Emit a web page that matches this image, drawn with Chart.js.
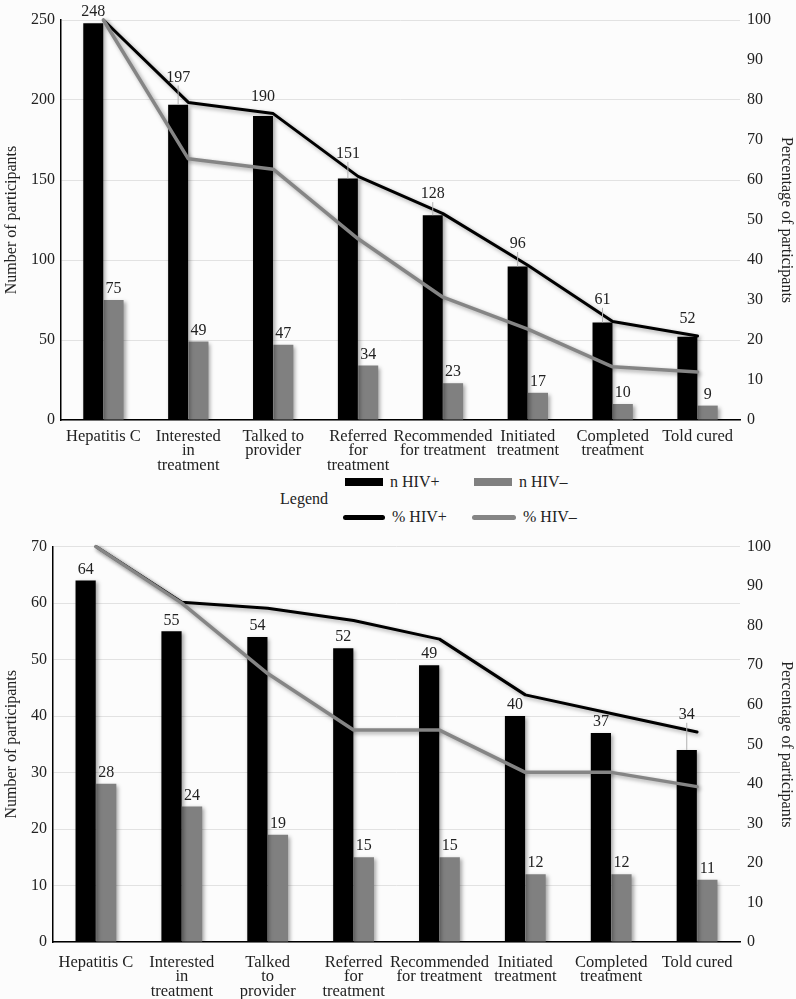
<!DOCTYPE html>
<html>
<head>
<meta charset="utf-8">
<script src="https://cdn.jsdelivr.net/npm/chart.js@4.4.0/dist/chart.umd.min.js"></script>
<style>
  body { margin: 0; background: #fcfcfc; font-family: "Liberation Serif", serif; }
  #arriba { position: absolute; left: 0; top: 0; }
  #abajo { position: absolute; left: 0; top: 530px; }
  #leyenda { position: absolute; left: 0; top: 470px; width: 796px; height: 60px; font-size: 16px; color: #222; }
  .titulo { position: absolute; left: 280px; top: 19px; height: 20px; line-height: 20px; }
  .item { position: absolute; height: 20px; display: flex; align-items: center; }
  .muestra { margin-right: 7px; }
</style>
</head>
<body>
<canvas id="arriba" width="796" height="470"></canvas>
<div id="leyenda"></div>
<canvas id="abajo" width="796" height="469"></canvas>
<script>
// categorias de cada grafica
let categoriasArriba = ["Hepatitis C", ["Interested", "in", "treatment"], ["Talked to", "provider"],
    ["Referred", "for", "treatment"], ["Recommended", "for treatment"], ["Initiated", "treatment"],
    ["Completed", "treatment"], "Told cured"];
let categoriasAbajo = ["Hepatitis C", ["Interested", "in", "treatment"], ["Talked", "to", "provider"],
    ["Referred", "for", "treatment"], ["Recommended", "for treatment"], ["Initiated", "treatment"],
    ["Completed", "treatment"], "Told cured"];

// grafica de arriba
let nPosArriba = [248, 197, 190, 151, 128, 96, 61, 52];
let nNegArriba = [75, 49, 47, 34, 23, 17, 10, 9];
let pctPosArriba = [100, 79.4, 76.6, 60.9, 51.6, 38.7, 24.6, 21.0];
let pctNegArriba = [100, 65.3, 62.7, 45.3, 30.7, 22.7, 13.3, 12.0];

// grafica de abajo
let nPosAbajo = [64, 55, 54, 52, 49, 40, 37, 34];
let nNegAbajo = [28, 24, 19, 15, 15, 12, 12, 11];
let pctPosAbajo = [100, 85.9, 84.4, 81.3, 76.6, 62.5, 57.8, 53.1];
let pctNegAbajo = [100, 85.7, 67.9, 53.6, 53.6, 42.9, 42.9, 39.3];

let nombres = ["n HIV+", "n HIV–", "% HIV+", "% HIV–"];

const fuente = '"Liberation Serif", serif';
const texto = "#222";

function yEnX(puntos, x) {
    for (let k = 0; k < puntos.length - 1; k++) {
        let a = puntos[k], b = puntos[k + 1];
        if (x >= a.x && x <= b.x) {
            return a.y + (b.y - a.y) * (x - a.x) / (b.x - a.x);
        }
    }
    return null;
}

// numeros encima de las barras; si chocan con una linea se suben
const etiquetas = {
    id: "etiquetas",
    afterDatasetsDraw(chart) {
        let ctx = chart.ctx;
        let lineas = [];
        chart.data.datasets.forEach((ds, i) => {
            if (ds.type === "line") lineas.push(chart.getDatasetMeta(i).data);
        });
        ctx.save();
        ctx.font = "16px " + fuente;
        ctx.textAlign = "center";
        ctx.textBaseline = "middle";
        chart.data.datasets.forEach((ds, i) => {
            if (ds.type !== "bar") return;
            chart.getDatasetMeta(i).data.forEach((barra, j) => {
                let y = barra.y - 11;
                for (let vuelta = 0; vuelta < 2; vuelta++) {
                    lineas.forEach(pts => {
                        let ly = yEnX(pts, barra.x);
                        if (ly !== null && Math.abs(y - ly) < 10) y = Math.min(y, ly - 15);
                    });
                }
                if (barra.y - y > 20) {
                    ctx.strokeStyle = "#b0b0b0";
                    ctx.lineWidth = 1;
                    ctx.beginPath();
                    ctx.moveTo(barra.x, y + 8);
                    ctx.lineTo(barra.x, barra.y);
                    ctx.stroke();
                }
                ctx.fillStyle = texto;
                ctx.fillText(ds.data[j], barra.x, y);
            });
        });
        ctx.restore();
    }
};

const sombra = {
    id: "sombra",
    beforeDatasetDraw(chart) {
        let c = chart.ctx;
        c.save();
        c.shadowColor = "rgba(0,0,0,0.35)";
        c.shadowBlur = 4;
        c.shadowOffsetX = 2;
        c.shadowOffsetY = 2;
    },
    afterDatasetDraw(chart) {
        chart.ctx.restore();
    }
};

function hacerGrafica(id, categorias, nPos, nNeg, pctPos, pctNeg, maxIzq, pasoIzq, anchoIzq, arriba, altoX, sepX) {
    let config = {
        type: "bar",
        data: {
            labels: categorias,
            datasets: [
                { type: "line", label: nombres[3], data: pctNeg, yAxisID: "pct", borderColor: "#858585",
                  backgroundColor: "#858585", borderWidth: 3.5, pointRadius: 0, tension: 0, order: 0, clip: false,
                  borderJoinStyle: "round", borderCapStyle: "round" },
                { type: "line", label: nombres[2], data: pctPos, yAxisID: "pct", borderColor: "#000",
                  backgroundColor: "#000", borderWidth: 3, pointRadius: 0, tension: 0, order: 1, clip: false,
                  borderJoinStyle: "round", borderCapStyle: "round" },
                { type: "bar", label: nombres[0], data: nPos, yAxisID: "n", backgroundColor: "#000",
                  categoryPercentage: 0.48, barPercentage: 0.98, order: 2 },
                { type: "bar", label: nombres[1], data: nNeg, yAxisID: "n", backgroundColor: "#808080",
                  categoryPercentage: 0.48, barPercentage: 0.98, order: 3 }
            ]
        },
        options: {
            responsive: false,
            animation: false,
            layout: { padding: { top: arriba, left: 0, right: 0, bottom: 0 } },
            plugins: { legend: { display: false }, tooltip: { enabled: false } },
            scales: {
                x: {
                    grid: { display: false, drawTicks: false },
                    border: { color: "#000", width: 1.5 },
                    ticks: { color: texto, font: { family: fuente, size: 16.5, lineHeight: 0.88 },
                             maxRotation: 0, autoSkip: false, padding: sepX },
                    afterFit(s) { s.height = altoX; }
                },
                n: {
                    position: "left", min: 0, max: maxIzq,
                    grid: { color: "#e2e2e2", drawTicks: false },
                    border: { color: "#000", width: 1.5 },
                    ticks: { stepSize: pasoIzq, color: texto, font: { family: fuente, size: 16 }, padding: 6 },
                    title: { display: true, text: "Number of participants", color: texto,
                             font: { family: fuente, size: 16 }, padding: { top: 2, bottom: 0 } },
                    afterFit(s) { s.width = anchoIzq; }
                },
                pct: {
                    position: "right", min: 0, max: 100,
                    grid: { drawOnChartArea: false, drawTicks: false },
                    border: { display: false },
                    ticks: { stepSize: 10, color: texto, font: { family: fuente, size: 16 }, padding: 7 },
                    title: { display: true, text: "Percentage of participants", color: texto,
                             font: { family: fuente, size: 16 }, padding: { top: 0, bottom: 0 } },
                    afterFit(s) { s.width = 56; }
                }
            }
        },
        plugins: [sombra, etiquetas]
    };
    return new Chart(document.getElementById(id).getContext("2d"), config);
}

let chartArriba = hacerGrafica("arriba", categoriasArriba, nPosArriba, nNegArriba, pctPosArriba, pctNegArriba,
    250, 50, 61, 20, 50, 9);
let chartAbajo = hacerGrafica("abajo", categoriasAbajo, nPosAbajo, nNegAbajo, pctPosAbajo, pctNegAbajo,
    70, 10, 53, 13, 57, 13);

// leyenda hecha con los datos de la grafica de arriba
function mostrarLeyenda() {
    let ds = chartArriba.data.datasets;
    let porNombre = {};
    ds.forEach(d => porNombre[d.label] = d);
    let sitios = [
        { nombre: nombres[0], x: 345, y: 2 },
        { nombre: nombres[1], x: 474, y: 2 },
        { nombre: nombres[2], x: 343, y: 37 },
        { nombre: nombres[3], x: 472, y: 37 }
    ];
    let cadena = '<div class="titulo">Legend</div>';
    for (let s of sitios) {
        let d = porNombre[s.nombre];
        let estilo;
        if (d.type === "bar") {
            estilo = "width:38px;height:8px;background:" + d.backgroundColor;
        } else {
            estilo = "width:" + (d.borderWidth > 3 ? 44 : 42) + "px;height:5px;border-radius:3px;background:" + d.borderColor;
        }
        cadena += `<div class="item" style="left:${s.x}px;top:${s.y}px">
            <div class="muestra" style="${estilo}"></div><span>${d.label}</span></div>`;
    }
    document.getElementById("leyenda").innerHTML = cadena;
}
mostrarLeyenda();
</script>
</body>
</html>
